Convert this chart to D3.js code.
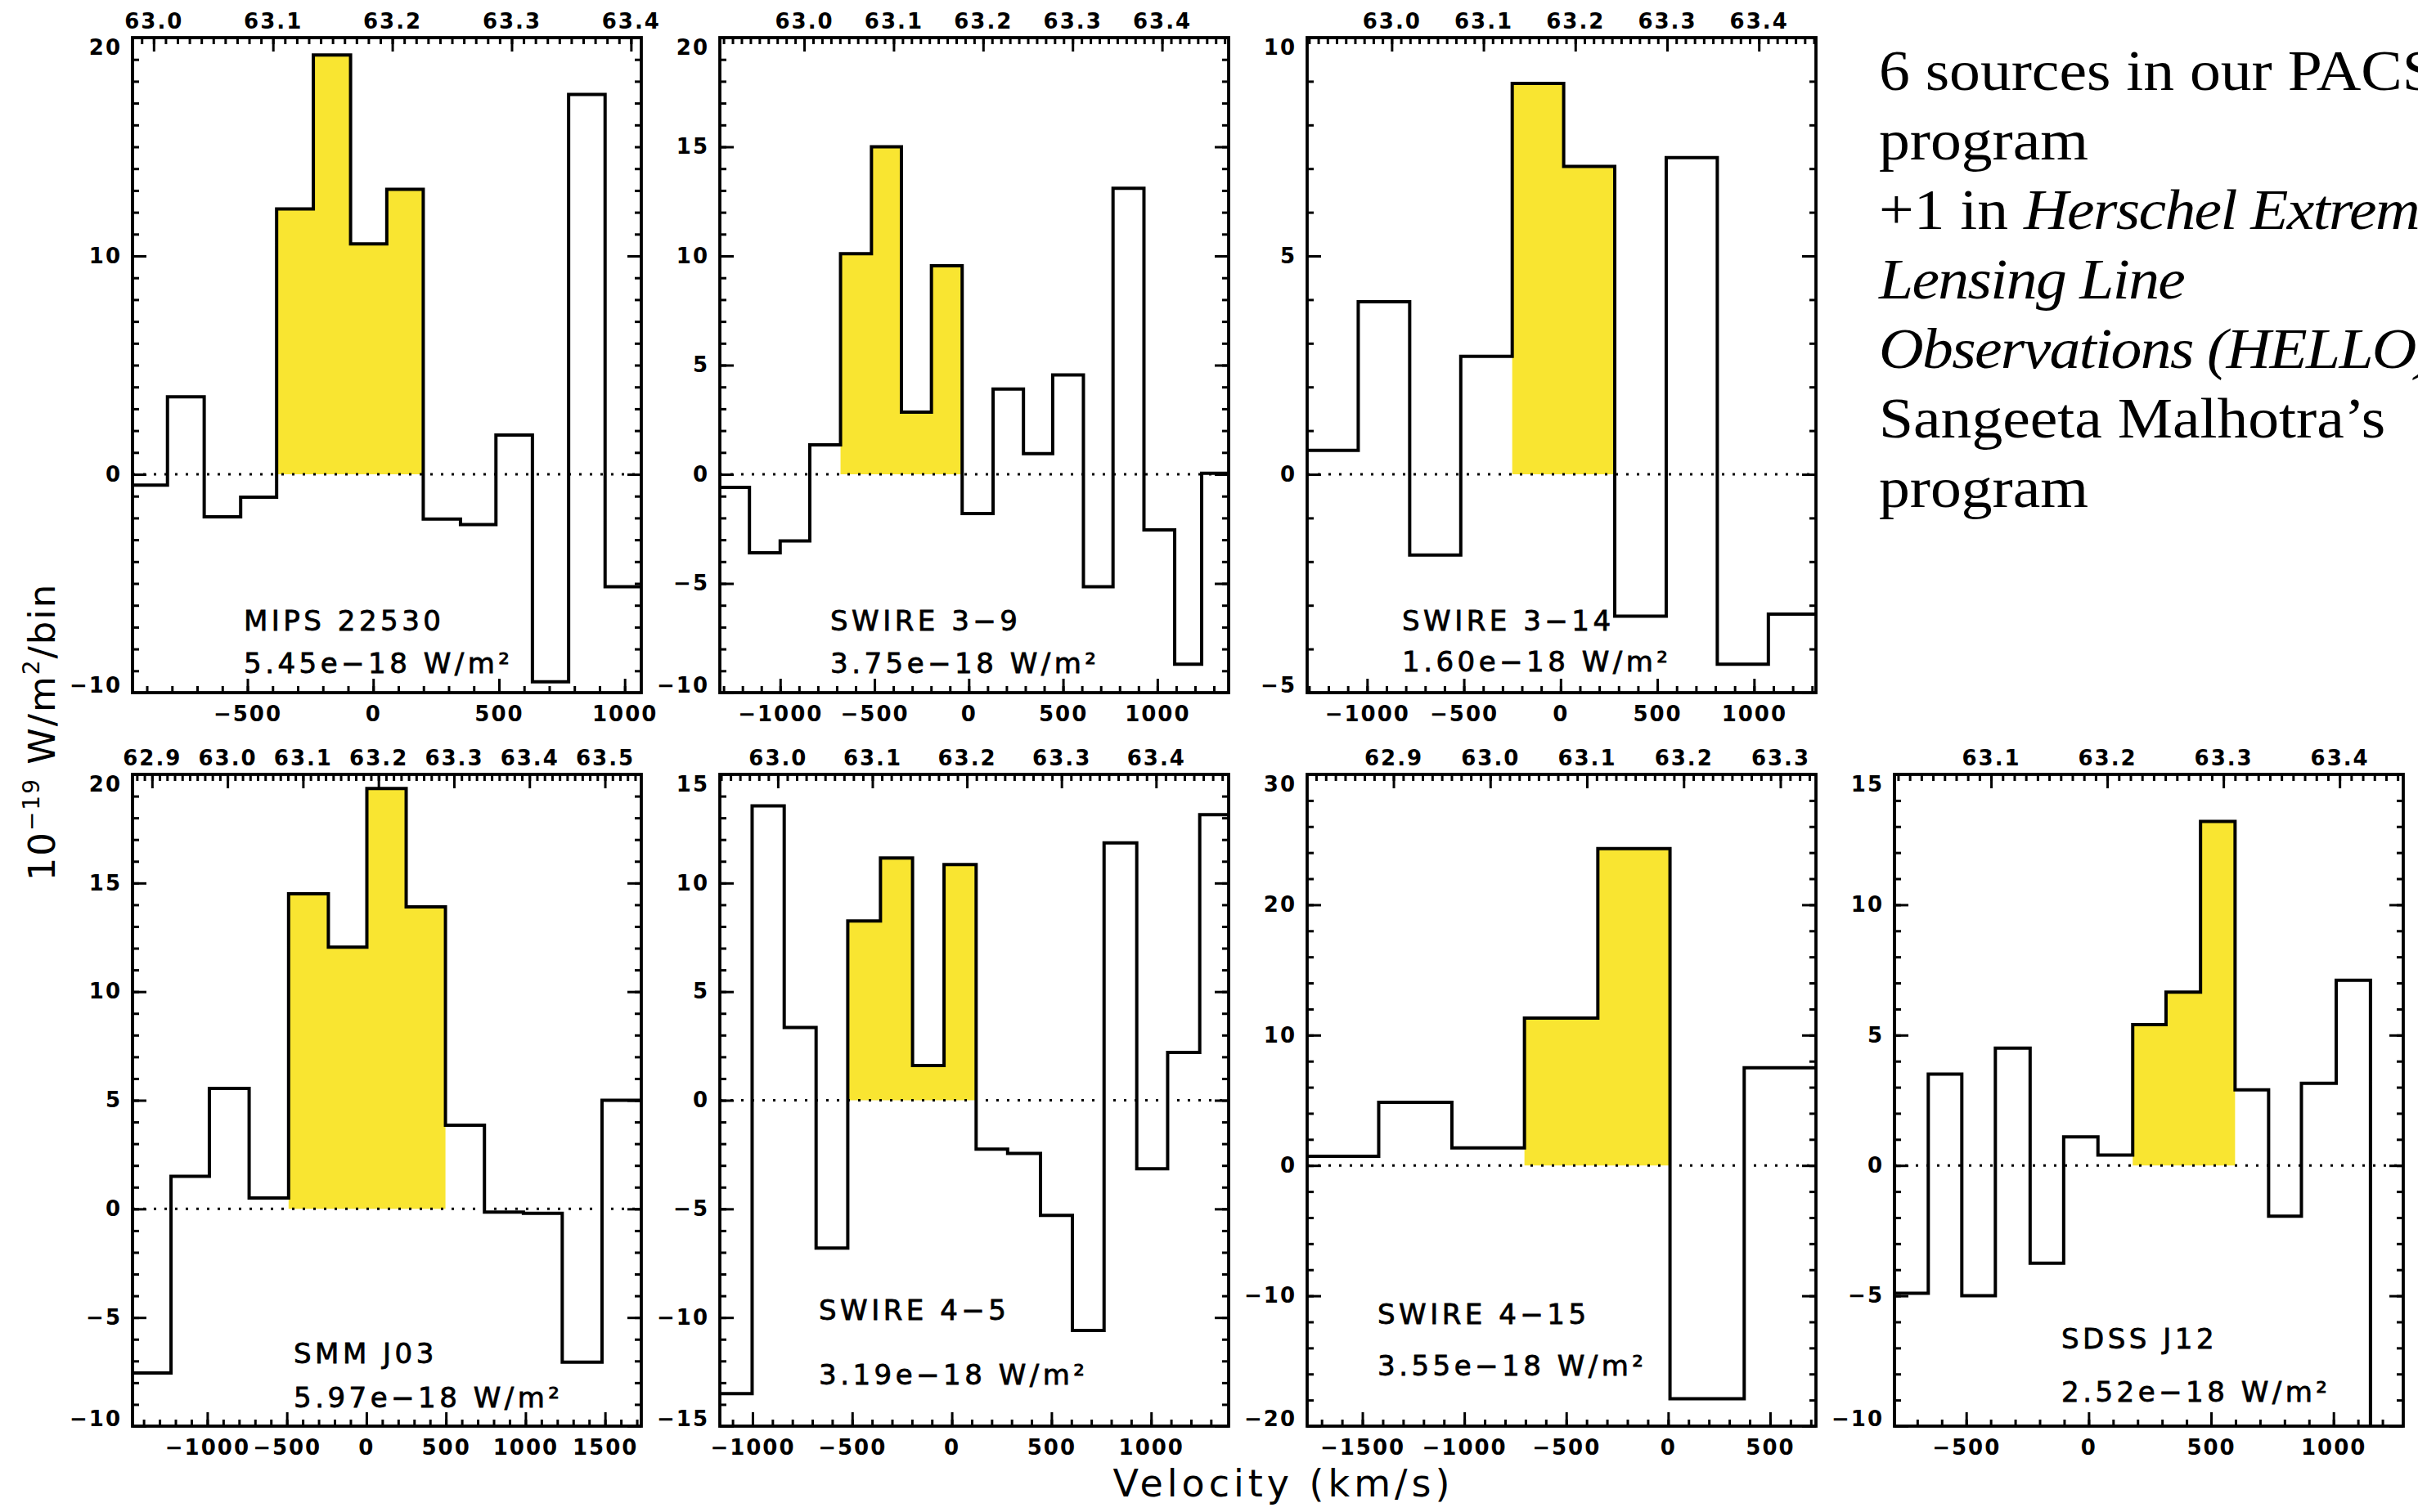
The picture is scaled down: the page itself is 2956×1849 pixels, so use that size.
<!DOCTYPE html>
<html>
<head>
<meta charset="utf-8">
<script src="https://cdn.jsdelivr.net/npm/d3@7"></script>
<style>
  html, body { margin: 0; padding: 0; background: #fff; }
  svg { display: block; }
</style>
</head>
<body>
<svg id="chart" width="2956" height="1849"></svg>
<script>
// [OI] 63 micron line: rest wavelength (micron) and speed of light (km/s)
const REST_WAVELENGTH = 63.184;
const LIGHT_SPEED = 299792.458;

const sourceNames = ["MIPS 22530", "SWIRE 3\u22129", "SWIRE 3\u221214", "SMM J03",
                     "SWIRE 4\u22125", "SWIRE 4\u221215", "SDSS J12"];
const lineFluxLabels = ["5.45e\u221218", "3.75e\u221218", "1.60e\u221218", "5.97e\u221218",
                        "3.19e\u221218", "3.55e\u221218", "2.52e\u221218"];

// Spectra: velocity bin edges (km/s) and binned flux (1e-19 W/m^2/bin)
const mips22530Edges = [-957, -818, -672, -527, -384, -238, -90, 54, 199, 347, 488, 633, 777, 922, 1066];
const mips22530Flux  = [-0.5, 3.55, -1.95, -1.05, 12.15, 19.2, 10.55, 13.05, -2.05, -2.3, 1.8, -9.5, 17.4, -5.15];

const swire3_9Edges = [-1320, -1163, -1000, -843, -680, -516, -357, -198, -35, 129, 290, 445, 608, 765, 929, 1092, 1235, 1378];
const swire3_9Flux  = [-0.6, -3.6, -3.05, 1.35, 10.1, 15.0, 2.85, 9.55, -1.8, 3.9, 0.95, 4.55, -5.15, 13.1, -2.55, -8.7, 0.05];

const swire3_14Edges = [-1310, -1046, -780, -516, -250, 16, 280, 546, 810, 1074, 1320];
const swire3_14Flux  = [0.55, 3.95, -1.85, 2.7, 8.95, 7.05, -3.25, 7.25, -4.35, -3.2];

const smmJ03Edges = [-1470, -1228, -987, -737, -489, -239, 3, 250, 497, 742, 987, 1231, 1481, 1728];
const smmJ03Flux  = [-7.55, 1.5, 5.55, 0.5, 14.5, 12.05, 19.35, 13.9, 3.85, -0.15, -0.2, -7.05, 5.0];

const swire4_5Edges = [-1164, -1002, -841, -681, -522, -358, -197, -39, 122, 280, 445, 605, 764, 928, 1083, 1244, 1389];
const swire4_5Flux  = [-13.5, 13.55, 3.35, -6.8, 8.25, 11.15, 1.6, 10.85, -2.25, -2.45, -5.3, -10.6, 11.85, -3.15, 2.2, 13.15];

const swire4_15Edges = [-1771, -1420, -1061, -705, -345, 9, 373, 725];
const swire4_15Flux  = [0.7, 4.85, 1.35, 11.3, 24.3, -17.9, 7.5];

const sdssJ12Edges = [-793, -655, -518, -381, -239, -102, 38, 180, 316, 457, 598, 735, 869, 1011, 1151, 1285];
const sdssJ12Flux  = [-4.9, 3.5, -5.0, 4.5, -3.75, 1.1, 0.4, 5.4, 6.65, 13.2, 2.9, -1.95, 3.15, 7.1, -12];

// Axis ranges and tick steps
const velocityRanges = [[-957, 1066], [-1320, 1378], [-1310, 1320], [-1470, 1728],
                        [-1164, 1389], [-1771, 725], [-793, 1285]];
const fluxRanges = [[-10, 20], [-10, 20], [-5, 10], [-10, 20], [-15, 15], [-20, 30], [-10, 15]];
const fluxMajorSteps = [10, 5, 5, 5, 5, 10, 5];
const fluxMinorSteps = [1, 1, 1, 1, 1, 2, 1];
const velocityMajorStep = 500, velocityMinorStep = 100;
const wavelengthMajorStep = 0.1, wavelengthMinorStep = 0.01;

// First and last bin integrated for the line flux (shaded)
const lineBins = [[4, 7], [4, 7], [4, 5], [4, 7], [4, 7], [3, 4], [7, 9]];

const spectra = [
  [mips22530Edges, mips22530Flux], [swire3_9Edges, swire3_9Flux], [swire3_14Edges, swire3_14Flux],
  [smmJ03Edges, smmJ03Flux], [swire4_5Edges, swire4_5Flux], [swire4_15Edges, swire4_15Flux],
  [sdssJ12Edges, sdssJ12Flux]
];

// ---- layout ----
const colLeft = [162, 880, 1598, 2316];
const rowTop = [46, 947];
const rowHeight = [801, 797];
const boxWidth = 622;
const panelGrid = [[0, 0], [1, 0], [2, 0], [0, 1], [1, 1], [2, 1], [3, 1]];
// label offsets inside each box: [dx, name baseline, flux baseline]
const labelOffsets = [[136, 725, 777], [135, 725, 777], [116, 725, 775], [197, 720, 774],
                      [121, 667, 746], [86, 672, 735], [204, 702, 767]];

const YELLOW = "#f9e531";
const MAJOR = 17, MINOR = 8;
const TICK_FONT = "DejaVu Sans";

const svg = d3.select("#chart");
svg.append("rect").attr("width", 2956).attr("height", 1849).attr("fill", "#fff");

function stepValues(lo, hi, step) {
  const k0 = Math.ceil(lo / step - 1e-9), k1 = Math.floor(hi / step + 1e-9);
  return d3.range(k0, k1 + 1).map(k => +(k * step).toFixed(6));
}

function drawAxis(g, axisFn, scale, values, size, fmt, transform, pad) {
  const axis = axisFn(scale).tickValues(values).tickSizeInner(-size).tickSizeOuter(0)
    .tickPadding(pad || 0).tickFormat(fmt || "");
  const a = g.append("g").attr("transform", transform || null).call(axis);
  a.select(".domain").remove();
  a.selectAll(".tick line").attr("stroke", "#000").attr("stroke-width", 3);
  a.attr("font-family", TICK_FONT).attr("font-size", 26).attr("font-weight", "bold");
  a.selectAll(".tick text").attr("fill", "#000").attr("letter-spacing", 2);
  return a;
}

spectra.forEach(([edges, flux], i) => {
  const [col, row] = panelGrid[i];
  const w = boxWidth, h = rowHeight[row];
  const g = svg.append("g").attr("transform", `translate(${colLeft[col]},${rowTop[row]})`);

  const vr = velocityRanges[i], fr = fluxRanges[i];
  const x = d3.scaleLinear().domain(vr).range([0, w]);
  const y = d3.scaleLinear().domain(fr).range([h, 0]);
  const toWavelength = v => REST_WAVELENGTH * (1 + v / LIGHT_SPEED);
  const xTop = d3.scaleLinear().domain(vr.map(toWavelength)).range([0, w]);

  const clipId = "clip" + i;
  g.append("clipPath").attr("id", clipId).append("rect").attr("width", w).attr("height", h);
  const plot = g.append("g").attr("clip-path", `url(#${clipId})`);

  // shaded line bins
  const [a, b] = lineBins[i];
  const fillPts = flux.slice(a, b + 1).map((f, k) => ({ v: edges[a + k], f }));
  fillPts.push({ v: edges[b + 1], f: flux[b] });
  const area = d3.area().x(d => x(d.v)).y0(y(0)).y1(d => y(d.f)).curve(d3.curveStepAfter);
  plot.append("path").attr("d", area(fillPts)).attr("fill", YELLOW);

  // zero level
  plot.append("line").attr("x1", 0).attr("x2", w).attr("y1", y(0)).attr("y2", y(0))
    .attr("stroke", "#000").attr("stroke-width", 3).attr("stroke-dasharray", "3 10");

  // histogram
  const pts = flux.map((f, k) => ({ v: edges[k], f }));
  pts.push({ v: edges[edges.length - 1], f: flux[flux.length - 1] });
  const line = d3.line().x(d => x(d.v)).y(d => y(d.f)).curve(d3.curveStepAfter);
  plot.append("path").attr("d", line(pts)).attr("fill", "none").attr("stroke", "#000")
    .attr("stroke-width", 4).attr("stroke-linejoin", "miter");

  // frame
  g.append("rect").attr("width", w).attr("height", h).attr("fill", "none")
    .attr("stroke", "#000").attr("stroke-width", 3.8);

  // bottom: velocity
  drawAxis(g, d3.axisBottom, x, stepValues(vr[0], vr[1], velocityMinorStep), MINOR, null, `translate(0,${h})`);
  drawAxis(g, d3.axisBottom, x, stepValues(vr[0], vr[1], velocityMajorStep), MAJOR, d3.format("d"), `translate(0,${h})`, 17);
  // top: wavelength
  const lr = vr.map(toWavelength);
  drawAxis(g, d3.axisTop, xTop, stepValues(lr[0], lr[1], wavelengthMinorStep), MINOR, null, null);
  drawAxis(g, d3.axisTop, xTop, stepValues(lr[0], lr[1], wavelengthMajorStep), MAJOR, d3.format(".1f"), null, 11);
  // left / right: flux
  drawAxis(g, d3.axisLeft, y, stepValues(fr[0], fr[1], fluxMinorSteps[i]), MINOR, null, null);
  const left = drawAxis(g, d3.axisLeft, y, stepValues(fr[0], fr[1], fluxMajorSteps[i]), MAJOR, d3.format("d"), null, 13);
  left.selectAll(".tick text").attr("transform", d => d === fr[1] ? "translate(0,12)" : d === fr[0] ? "translate(0,-9)" : null);
  drawAxis(g, d3.axisRight, y, stepValues(fr[0], fr[1], fluxMinorSteps[i]), MINOR, null, `translate(${w},0)`);
  drawAxis(g, d3.axisRight, y, stepValues(fr[0], fr[1], fluxMajorSteps[i]), MAJOR, null, `translate(${w},0)`);

  // source name and integrated line flux
  const [dx, nameY, fluxY] = labelOffsets[i];
  const lab = g.append("g").attr("font-family", "DejaVu Sans").attr("font-size", 34)
    .attr("letter-spacing", 4.5).attr("fill", "#000")
    .attr("stroke", "#000").attr("stroke-width", 0.8);
  lab.append("text").attr("x", dx).attr("y", nameY).text(sourceNames[i]);
  lab.append("text").attr("x", dx).attr("y", fluxY).text(lineFluxLabels[i] + " W/m\u00b2");
});

// axis titles
svg.append("text").attr("x", 1569).attr("y", 1830).attr("text-anchor", "middle")
  .attr("font-family", "DejaVu Sans").attr("font-size", 46).attr("letter-spacing", 5)
  .text("Velocity (km/s)");

const yTitle = svg.append("text").attr("transform", "translate(67,895) rotate(-90)")
  .attr("text-anchor", "middle").attr("font-family", "DejaVu Sans").attr("font-size", 45)
  .attr("letter-spacing", 2);
yTitle.append("tspan").text("10");
yTitle.append("tspan").attr("font-size", 28).attr("dy", -19).text("\u221219");
yTitle.append("tspan").attr("dy", 19).text(" W/m");
yTitle.append("tspan").attr("font-size", 28).attr("dy", -19).text("2");
yTitle.append("tspan").attr("dy", 19).text("/bin");

// notes on the sample
const noteLines = [
  [["6 sources in our PACS", false]],
  [["program", false]],
  [["+1 in ", false], ["Herschel Extreme", true]],
  [["Lensing Line", true]],
  [["Observations (HELLO)", true]],
  [["Sangeeta Malhotra\u2019s", false]],
  [["program", false]]
];
const notes = svg.append("g").attr("transform", "translate(2297,0) scale(1.08,1)")
  .attr("font-family", "Liberation Serif").attr("font-size", 70).attr("fill", "#000");
noteLines.forEach((parts, k) => {
  const t = notes.append("text").attr("x", 0).attr("y", 110 + 85 * k);
  parts.forEach(([s, it]) => t.append("tspan")
    .attr("font-style", it ? "italic" : "normal")
    .attr("letter-spacing", it ? -1.5 : 0)
    .text(s));
});
</script>
</body>
</html>
